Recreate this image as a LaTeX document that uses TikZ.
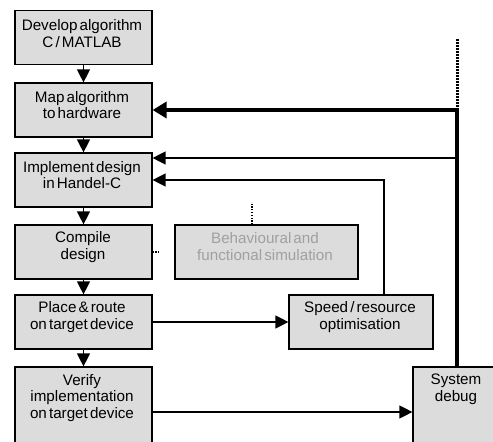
\documentclass[tikz,border=0pt]{standalone}
\usepackage{fontspec}
\setmainfont{Liberation Sans}[WordSpace=0.5]
\usetikzlibrary{arrows.meta}
\definecolor{boxfill}{HTML}{DCDCDC}
\definecolor{greytext}{HTML}{A0A0A0}
\begin{document}
\begin{tikzpicture}[x=1pt,y=-1pt,
  box/.style={draw=black, line width=1.2pt, fill=boxfill, rectangle, inner sep=0pt},
  label/.style={inner sep=0pt, align=center, font=\fontsize{15.2}{16.6}\selectfont},
  flow/.style={line width=1.3pt, -{Triangle[length=13pt,width=13pt]}},
  thickflow/.style={line width=4pt, -{Triangle[length=14pt,width=16pt]}},
  dots/.style={line width=1.3pt, dash pattern=on 1.3pt off 1.5pt},
  thickdots/.style={line width=3pt, dash pattern=on 2pt off 1pt}
]
\useasboundingbox (0,0) rectangle (493,442);
\clip (0,0) rectangle (493,442);

% main design flow
\node[box, minimum width=137pt, minimum height=54pt] (dev) at (83.5,37.5) {};
\node[label] (devt) at (82,33.5) {Develop algorithm\\C / MATLAB};
\node[box, minimum width=137pt, minimum height=54pt] (map) at (83.5,110) {};
\node[label] (mapt) at (82,105) {Map algorithm\\to hardware};
\node[box, minimum width=137pt, minimum height=54pt] (impl) at (83.5,180) {};
\node[label] (implt) at (82,175) {Implement design\\in Handel-C};
\node[box, minimum width=137pt, minimum height=54pt] (comp) at (83.5,252) {};
\node[label] (compt) at (83,247) {Compile\\design};
\node[box, minimum width=137pt, minimum height=54pt] (place) at (83.5,322) {};
\node[label] (placet) at (82,317) {Place \& route\\on target device};
\node[box, minimum width=137pt, minimum height=100pt] (verify) at (83.5,417) {};
\node[label] (verifyt) at (82,398) {Verify\\implementation\\on target device};

% side boxes
\node[box, minimum width=183pt, minimum height=54pt] (behav) at (266.5,252) {};
\node[label, text=greytext] (behavt) at (265,246.5) {Behavioural and\\functional simulation};
\node[box, minimum width=144pt, minimum height=54pt] (speed) at (361,322) {};
\node[label] (speedt) at (360,317) {Speed / resource\\optimisation};
\node[box, minimum width=88pt, minimum height=100pt] (debug) at (457,417) {};
\node[label] (debugt) at (456,389) {System\\debug};

% vertical flow
\draw[flow] (dev) -- (map);
\draw[flow] (map) -- (impl);
\draw[flow] (impl) -- (comp);
\draw[flow] (comp) -- (place);
\draw[flow] (place) -- (verify);

% feedback paths
\coordinate (top) at (457,110);
\coordinate (dottop) at (457,39);
\coordinate (speedtap) at (384,295);
\draw[line width=4pt] (debug.north) -- (top);
\draw[thickflow] (top) -- (map.east |- top);
\draw[thickdots] (top) -- (dottop);
\draw[flow] (455,158) -- (impl.east |- 0,158);
\draw[flow] (speedtap) |- (impl.east |- 0,180);
\draw[flow] (place.east) -- (speed.west);
\draw[flow] (verify.east |- 0,412) -- (debug.west |- 0,412);

% loose dotted stubs
\coordinate (compstub) at (159,252);
\coordinate (behavstub) at (252,202);
\draw[dots] (comp.east) -- (compstub);
\draw[dots] (behav.north -| behavstub) -- (behavstub);
\end{tikzpicture}
\end{document}
